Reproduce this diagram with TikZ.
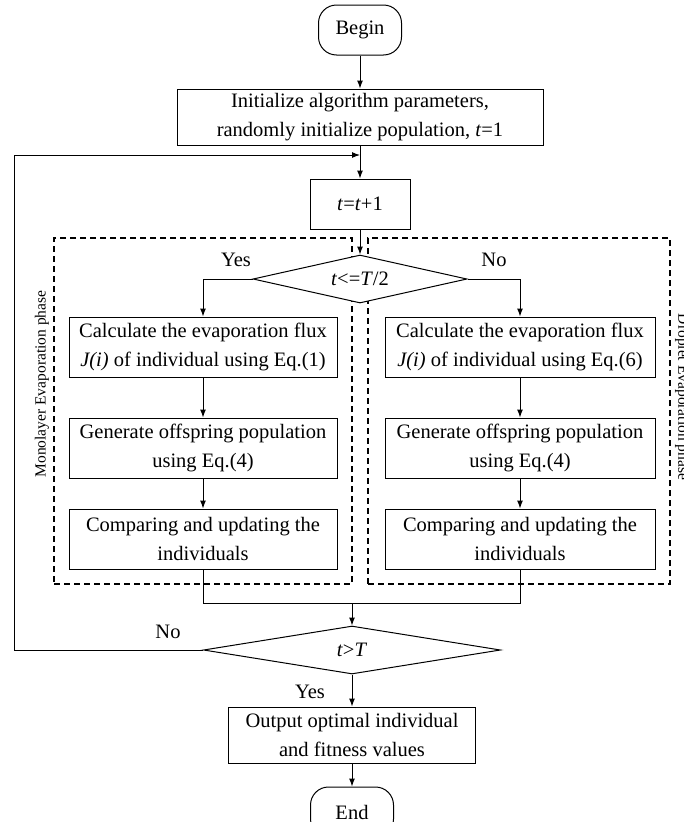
\documentclass[tikz,border=0pt]{standalone}
\usepackage{fontspec}
\setmainfont{Liberation Serif}
\usepackage{tikz}
\usetikzlibrary{arrows.meta,shapes.geometric}

\begin{document}
\begin{tikzpicture}[x=1pt,y=-1pt,
  every node/.style={font=\fontsize{20.5}{29}\selectfont},
  box/.style={draw,line width=1pt,align=center,inner sep=0pt,minimum height=60pt},
  terminal/.style={draw,line width=1pt,rounded corners=18pt,inner sep=0pt,minimum width=83pt,minimum height=50pt},
  decision/.style={draw,diamond,fill=white,line width=1pt,inner sep=0pt},
  arrow/.style={line width=1pt,-{Latex[length=8pt,width=6pt]}},
  line/.style={line width=1pt},
  phasebox/.style={draw,line width=1.8pt,dash pattern=on 6pt off 4pt,inner sep=0pt},
  phaselabel/.style={font=\fontsize{15.5}{18}\selectfont}]
\useasboundingbox (0,0) rectangle (683,822);

% main line
\node[terminal] (begin) at (360,30) {Begin};
\node[box,minimum width=366pt,minimum height=56pt] (init) at (360,117)
  {Initialize algorithm parameters,\\randomly initialize population, \textit{t}=1};
\node[box,minimum width=100pt,minimum height=50pt] (inc) at (360,204) {\textit{t}=\textit{t}+1};
\coordinate (loopin) at (360,155);

% the two phases
\node[phasebox,minimum width=298pt,minimum height=346pt] (mono) at (203,411) {};
\node[phasebox,minimum width=302pt,minimum height=346pt] (drop) at (519,411) {};
\node[phaselabel,rotate=90] (monolab) at (42,384) {Monolayer Evaporation phase};
\node[phaselabel,rotate=-90] (droplab) at (682,397) {Droplet Evaporation phase};

\node[decision,aspect=4.46,minimum width=214pt,minimum height=48pt] (half) at (360,279)
  {\textit{t}<=\textit{T}/2};
\node (yes1) at (236,260) {Yes};
\node (no1) at (494,260) {No};

\node[box,minimum width=268pt] (l1) at (203,347)
  {Calculate the evaporation flux\\\textit{J(i)} of individual using Eq.(1)};
\node[box,minimum width=268pt] (l2) at (203,448)
  {Generate offspring population\\using Eq.(4)};
\node[box,minimum width=268pt] (l3) at (203,539)
  {Comparing and updating the\\individuals};

\node[box,minimum width=270pt] (r1) at (520,347)
  {Calculate the evaporation flux\\\textit{J(i)} of individual using Eq.(6)};
\node[box,minimum width=270pt] (r2) at (520,448)
  {Generate offspring population\\using Eq.(4)};
\node[box,minimum width=270pt] (r3) at (520,539)
  {Comparing and updating the\\individuals};

% end part
\coordinate (merge) at (352,603);
\node[decision,aspect=6.2,minimum width=297pt,minimum height=48pt] (stop) at (352,650)
  {\textit{t}>\textit{T}};
\node (no2) at (168,632) {No};
\node (yes2) at (310,692) {Yes};
\node[box,minimum width=247pt,minimum height=56pt] (out) at (352,735)
  {Output optimal individual\\and fitness values};
\node[terminal] (finish) at (352,812) {End};
\coordinate (loopx) at (14,0);

\draw[arrow] (begin) -- (init);
\draw[arrow] (init) -- (inc);
\draw[arrow] (inc.south) -- (half.north);
\draw[arrow] (half.west) -| (l1.north);
\draw[arrow] (half.east) -| (r1.north);
\draw[arrow] (l1) -- (l2);
\draw[arrow] (l2) -- (l3);
\draw[arrow] (r1) -- (r2);
\draw[arrow] (r2) -- (r3);
\draw[line] (l3.south) |- (merge);
\draw[line] (r3.south) |- (merge);
\draw[arrow] (merge) -- (stop.north);
\draw[arrow] (stop.west) -- (stop.west -| loopx) |- (loopin);
\draw[arrow] (stop.south) -- (out.north);
\draw[arrow] (out) -- (finish);
\end{tikzpicture}
\end{document}
